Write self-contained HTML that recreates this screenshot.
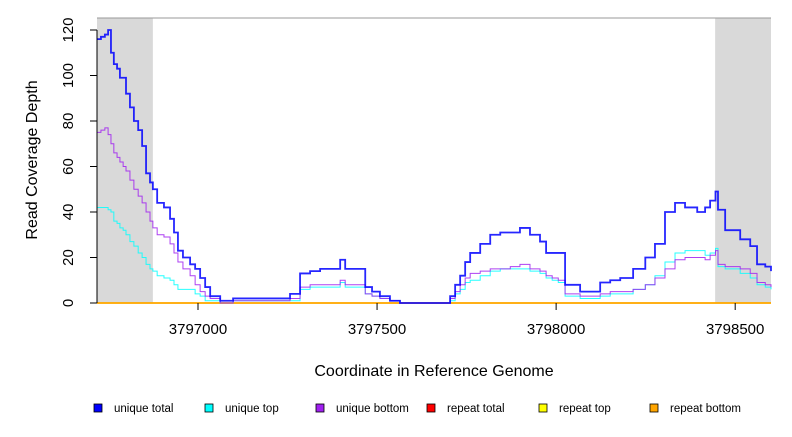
<!DOCTYPE html>
<html><head><meta charset="utf-8"><style>
body{margin:0;background:#fff}
svg text{font-family:"Liberation Sans",sans-serif;fill:#000}
</style></head><body>
<svg id="c" width="792" height="432" xmlns="http://www.w3.org/2000/svg"></svg>
<script>
const positions=[3796718,3796729,3796740,3796749,3796757,3796765,3796774,3796782,3796791,3796799,3796810,3796821,3796833,3796844,3796855,3796866,3796874,3796886,3796905,3796922,3796933,3796944,3796958,3796978,3796992,3797006,3797020,3797034,3797062,3797098,3797257,3797285,3797313,3797341,3797369,3797397,3797411,3797439,3797467,3797486,3797508,3797536,3797564,3797592,3797690,3797704,3797718,3797732,3797746,3797760,3797788,3797816,3797844,3797872,3797899,3797927,3797955,3797972,3797989,3798006,3798025,3798067,3798106,3798123,3798151,3798179,3798215,3798249,3798276,3798304,3798332,3798360,3798394,3798416,3798430,3798445,3798452,3798472,3798514,3798542,3798561,3798584,3798600];
const uniqueTotal=[116,117,118,120,110,105,103,99,99,92,86,80,76,69,57,53,50,44,42,37,31,23,20,17,15,11,7,3,1,2,4,13,14,15,15,19,15,15,7,5,3,1,0,0,0,3,8,12,18,22,26,30,31,31,33,30,27,22,22,22,8,5,5,9,10,11,15,20,26,40,44,42,40,42,45,49,41,32,28,25,17,16,14];
const uniqueTop=[42,42,42,41,40,36,35,33,32,30,27,25,22,20,17,15,14,12,11,10,8,6,6,6,4,3,1,1,0,1,1,6,7,7,7,9,7,7,4,3,2,1,0,0,0,1,4,6,9,10,12,14,15,15,15,14,13,11,10,9,3,2,2,3,4,4,6,8,12,18,22,23,23,21,22,24,16,15,13,11,8,7,6];
const uniqueBottom=[75,76,77,74,70,66,64,62,60,58,54,50,47,44,40,36,33,30,29,26,22,18,15,12,8,5,3,2,0,1,2,7,8,8,8,10,8,8,4,3,2,1,0,0,0,2,5,8,11,13,14,15,15,16,17,15,14,12,11,10,4,3,3,4,5,5,6,8,11,15,19,20,20,19,21,23,17,16,15,13,9,8,7];
const repeatZero=positions.map(()=>0);
const yTicks=[0,20,40,60,80,100,120];
const xTicks=[3797000,3797500,3798000,3798500];
const shaded=[[3796718,3796874],[3798444,3798600]];
const legendNames=["unique total","unique top","unique bottom","repeat total","repeat top","repeat bottom"];
const legendColors=["#0000ff","#00ffff","#a020f0","#ff0000","#ffff00","#ffa500"];

const NS="http://www.w3.org/2000/svg",svgEl=document.getElementById('c');
const X0=97,X1=771,Y0=303,YT=18;
const xs=v=>X0+(v-3796718)/(3798600-3796718)*(X1-X0);
const ys=v=>Y0-v*2.275;
function mk(t,a,p){const e=document.createElementNS(NS,t);for(const k in a)e.setAttribute(k,a[k]);(p||svgEl).appendChild(e);return e;}
shaded.forEach(s=>{const r=mk('rect',{x:xs(s[0]),y:YT,width:xs(s[1])-xs(s[0]),height:Y0-YT,fill:'#d9d9d9'});

});
const topBorder=mk('line',{x1:X0,x2:X1,y1:YT,y2:YT,stroke:'#999','stroke-width':1});


function step(vals,color,w,name){let d='';vals.forEach((v,i)=>{const x=xs(positions[i]),y=ys(v);if(i==0)d+='M'+x+' '+y;else d+='H'+x+'V'+y;});
const p=mk('path',{d:d,fill:'none',stroke:color,'stroke-width':w,opacity:0.85});

}
step(repeatZero,'#ff0000',1.5,'repeat-total-line');
step(repeatZero,'#ffff00',1.5,'repeat-top-line');
step(repeatZero,'#ffa500',1.5,'repeat-bottom-line');
step(uniqueTop,'#00ffff',1,'unique-top-line');
step(uniqueBottom,'#a020f0',1,'unique-bottom-line');
step(uniqueTotal,'#0000ff',1.8,'unique-total-line');
const ya=mk('g',{});


mk('line',{x1:X0,x2:X0,y1:ys(0),y2:ys(120),stroke:'#000'},ya);
yTicks.forEach(t=>{mk('line',{x1:X0-7,x2:X0,y1:ys(t),y2:ys(t),stroke:'#000'},ya);
const tx=mk('text',{x:0,y:0,'font-size':15,'text-anchor':'middle',transform:`translate(${X0-24},${ys(t)}) rotate(-90)`},ya);tx.textContent=t;

});
const xa=mk('g',{});


xTicks.forEach(t=>{mk('line',{x1:xs(t),x2:xs(t),y1:Y0,y2:Y0+7,stroke:'#000'},xa);
const tx=mk('text',{x:xs(t),y:Y0+31,'font-size':15,'text-anchor':'middle'},xa);tx.textContent=t;

});
const yt=mk('text',{x:0,y:0,'font-size':16,'text-anchor':'middle',transform:'translate(37,160) rotate(-90)'});yt.textContent='Read Coverage Depth';


const xt=mk('text',{x:434,y:376,'font-size':16,'text-anchor':'middle'});xt.textContent='Coordinate in Reference Genome';


const lx=[94,205,316,427,539,650];
legendNames.forEach((n,i)=>{const g=mk('g',{});


mk('rect',{x:lx[i],y:404,width:8,height:8,fill:legendColors[i],stroke:'#000','stroke-width':0.8},g);
const t=mk('text',{x:lx[i]+20,y:412,'font-size':11.5},g);t.textContent=n;});
</script>
</body></html>
